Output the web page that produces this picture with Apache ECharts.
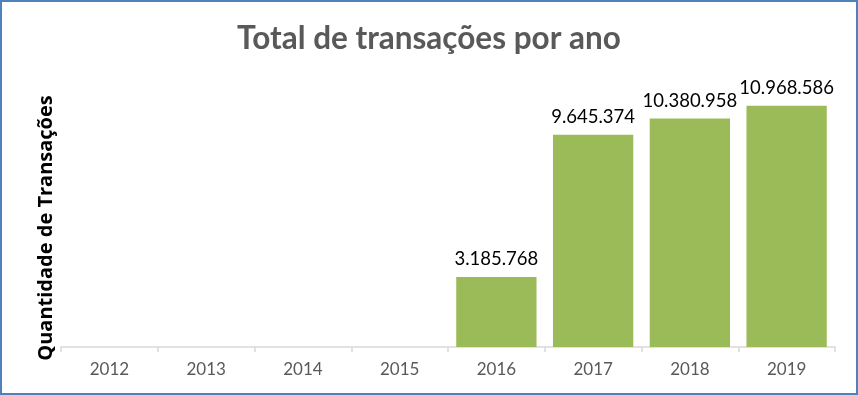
<!DOCTYPE html>
<html><head><meta charset="utf-8">
<script src="https://cdn.jsdelivr.net/npm/echarts@6/dist/echarts.min.js"></script>
<style>html,body{margin:0;padding:0;background:#fff}#c{width:858px;height:395px;box-sizing:border-box;border:2px solid #4F81BD}</style>
</head><body><div id="c"></div>
<script>
const categories = ['2012','2013','2014','2015','2016','2017','2018','2019'];
const values = [0, 0, 0, 0, 3185768, 9645374, 10380958, 10968586];
const titleText = 'Total de transações por ano';
const yName = 'Quantidade de Transações';
function fmt(v){ return String(v).replace(/\B(?=(\d{3})+(?!\d))/g, '.'); }
const chart = echarts.init(document.getElementById('c'), null, {renderer:'canvas'});
chart.setOption({
  animation:false,
  title:{text:titleText,left:'center',top:16,textStyle:{fontFamily:'Lato',fontWeight:'bold',fontSize:31.5,color:'#595959'}},
  grid:{left:59,right:21,top:81,bottom:46},
  xAxis:{type:'category',data:categories,
    axisLine:{lineStyle:{color:'#D9D9D9',width:1.5}},
    axisTick:{show:true,length:5,lineStyle:{color:'#D9D9D9',width:1.5}},
    axisLabel:{color:'#595959',fontFamily:'Lato',fontSize:17,margin:14}},
  yAxis:{type:'value',min:0,max:12000000,show:true,
    axisLine:{show:false},axisTick:{show:false},axisLabel:{show:false},splitLine:{show:false},
    name:yName,nameLocation:'middle',nameGap:5,nameRotate:90,
    nameTextStyle:{fontFamily:'Open Sans',fontWeight:'bold',fontSize:20,color:'#000',padding:[0,0,0,-26]}},
  series:[{type:'bar',data:values,barCategoryGap:'17%',itemStyle:{color:'#9BBB59'},
    label:{show:true,position:'top',distance:8,color:'#000',fontFamily:'Lato',fontSize:18.5,
      formatter:p=>p.value?fmt(p.value):''}}]
});
</script></body></html>
